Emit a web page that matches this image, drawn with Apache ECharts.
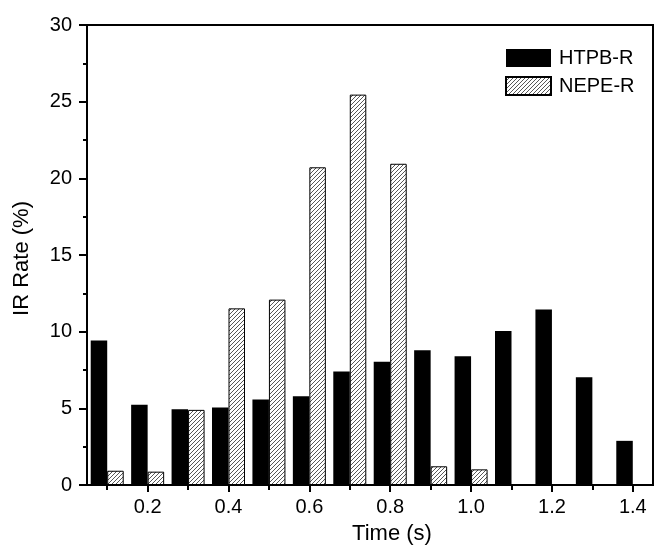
<!DOCTYPE html>
<html>
<head>
<meta charset="utf-8">
<script src="https://cdn.jsdelivr.net/npm/echarts@6/dist/echarts.min.js"></script>
<style>
html,body{margin:0;padding:0;background:#fff;}
#chart{width:654px;height:555px;}
</style>
</head>
<body>
<div id="chart"></div>
<script>
// Data
var times = [0.1, 0.2, 0.3, 0.4, 0.5, 0.6, 0.7, 0.8, 0.9, 1.0, 1.1, 1.2, 1.3, 1.4];
var htpbR = [9.43, 5.23, 4.94, 5.05, 5.57, 5.79, 7.40, 8.04, 8.78, 8.39, 10.04, 11.44, 7.03, 2.88];
var nepeR = [0.93, 0.87, 4.90, 11.52, 12.09, 20.72, 25.46, 20.95, 1.22, 1.02, null, null, null, null];
var xMajorTicks = [0.2, 0.4, 0.6, 0.8, 1.0, 1.2, 1.4];
var xMinorTicks = [0.1, 0.3, 0.5, 0.7, 0.9, 1.1, 1.3];
var seriesNames = ['HTPB-R', 'NEPE-R'];

function hatch() {
  var c = document.createElement('canvas');
  c.width = 4; c.height = 4;
  var g = c.getContext('2d');
  g.fillStyle = '#fff';
  g.fillRect(0, 0, 4, 4);
  g.strokeStyle = '#444';
  g.lineWidth = 0.9;
  g.beginPath();
  g.moveTo(-1, 1); g.lineTo(1, -1);
  g.moveTo(0, 4); g.lineTo(4, 0);
  g.moveTo(3, 5); g.lineTo(5, 3);
  g.stroke();
  return c;
}

var FONT = 'Liberation Sans, Arial, sans-serif';
var chart = echarts.init(document.getElementById('chart'), null, {renderer: 'canvas'});

function pairs(vals) {
  return times.map(function (t, i) { return [t, vals[i]]; });
}

var option = {
  animation: false,
  backgroundColor: '#fff',
  grid: {left: 87, right: 1, top: 25, bottom: 70, show: true, borderColor: '#000', borderWidth: 2, containLabel: false},
  legend: {
    left: 505, top: 48, orient: 'vertical', padding: 0, icon: 'rect',
    itemWidth: 45, itemHeight: 18, itemGap: 8,
    textStyle: {fontFamily: FONT, fontSize: 20, color: '#000', padding: [0, 0, 0, 3]},
    data: seriesNames
  },
  xAxis: [{
    type: 'value', min: 0.05, max: 1.45,
    name: 'Time (s)', nameLocation: 'middle', nameGap: 38,
    nameTextStyle: {fontFamily: FONT, fontSize: 22, color: '#000', padding: [0, 0, 0, 44]},
    axisLine: {show: true, onZero: false, lineStyle: {color: '#000', width: 2}},
    axisTick: {show: true, inside: false, length: 7, lineStyle: {color: '#000', width: 2}, customValues: xMajorTicks},
    axisLabel: {fontFamily: FONT, fontSize: 20, color: '#000', margin: 12, customValues: xMajorTicks,
      formatter: function (v) { return v.toFixed(1); }},
    splitLine: {show: false}
  }, {
    type: 'value', min: 0.05, max: 1.45, position: 'bottom',
    axisLine: {show: false},
    axisTick: {show: true, inside: false, length: 5, lineStyle: {color: '#000', width: 2}, customValues: xMinorTicks},
    axisLabel: {show: false},
    splitLine: {show: false}
  }],
  yAxis: {
    type: 'value', min: 0, max: 30, interval: 5,
    name: 'IR Rate (%)', nameLocation: 'middle', nameGap: 54,
    nameTextStyle: {fontFamily: FONT, fontSize: 22, color: '#000', padding: [0, 7, 0, 0]},
    axisLine: {show: true, lineStyle: {color: '#000', width: 2}},
    axisTick: {show: true, inside: false, length: 8, lineStyle: {color: '#000', width: 2}},
    minorTick: {show: true, splitNumber: 2, length: 4, lineStyle: {color: '#000', width: 2}},
    axisLabel: {fontFamily: FONT, fontSize: 20, color: '#000', margin: 15},
    splitLine: {show: false}
  },
  series: [{
    name: seriesNames[0], type: 'bar', xAxisIndex: 0,
    barWidth: 16.5, barGap: '0%',
    itemStyle: {color: '#000', borderColor: '#000', borderWidth: 0},
    data: pairs(htpbR)
  }, {
    name: seriesNames[1], type: 'bar', xAxisIndex: 0,
    barWidth: 16.5, barGap: '0%',
    itemStyle: {color: {image: hatch(), repeat: 'repeat'}, borderColor: '#000', borderWidth: 1},
    data: pairs(nepeR)
  }]
};
chart.setOption(option);
</script>
</body>
</html>
